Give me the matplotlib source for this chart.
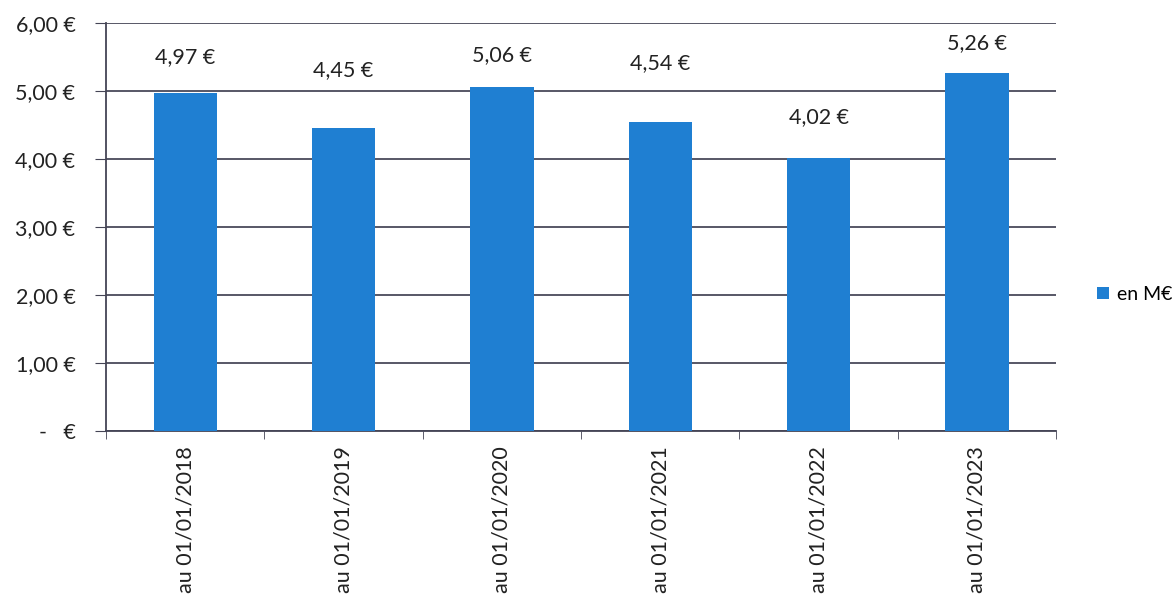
import matplotlib.pyplot as plt
import numpy as np

# Data
dates = ["au 01/01/2018", "au 01/01/2019", "au 01/01/2020",
         "au 01/01/2021", "au 01/01/2022", "au 01/01/2023"]
values = [4.97, 4.45, 5.06, 4.54, 4.02, 5.26]
y_ticks = [0, 1, 2, 3, 4, 5, 6]
y_labels = ["-   €", "1,00 €", "2,00 €", "3,00 €", "4,00 €", "5,00 €", "6,00 €"]

# label offsets above the bar tops (points), placed by hand in the original
label_offsets = [26, 42, 23, 42.5, 29, 22]

plt.rcParams['font.family'] = ['Lato', 'DejaVu Sans']
fs = 15.5

fig = plt.figure(figsize=(11.73, 5.98), dpi=100)
ax = fig.add_axes([0.0904, 0.279, 0.810, 0.6825])

x = np.arange(len(dates))
ax.bar(x, values, width=0.4, color="#1f7fd2", label="en M€", zorder=3)

# value labels above each bar
for xi, v, off in zip(x, values, label_offsets):
    ax.annotate(f"{v:.2f} €".replace(".", ","), (xi, v), xytext=(0, off),
                textcoords="offset points", ha="center", va="center",
                fontsize=fs, color="#222222")

ax.set_xlim(-0.5, len(dates) - 0.5)
ax.set_ylim(0, 6)
ax.set_yticks(y_ticks)
ax.set_yticklabels(y_labels, fontsize=fs, color="#222222")
ax.yaxis.grid(True, color="#4a4a5a", linewidth=1.3, zorder=0)

ax.set_xticks(x)
ax.set_xticklabels(dates, rotation=90, fontsize=fs, color="#222222")
ax.set_xticks(np.arange(-0.5, len(dates)), minor=True)
ax.tick_params(axis="x", which="major", length=0, pad=11)
ax.tick_params(axis="x", which="minor", length=6, color="#444455", direction="out")
ax.tick_params(axis="y", length=8, color="#444455", pad=14)

for s in ["top", "right"]:
    ax.spines[s].set_visible(False)
for s in ["left", "bottom"]:
    ax.spines[s].set_color("#444455")
    ax.spines[s].set_linewidth(1.3)

ax.legend(loc="center left", bbox_to_anchor=(1.025, 0.335), frameon=False,
          fontsize=fs - 1.5, handlelength=0.6, handleheight=0.6, handletextpad=0.4)

fig.savefig("out.png", dpi=100)
